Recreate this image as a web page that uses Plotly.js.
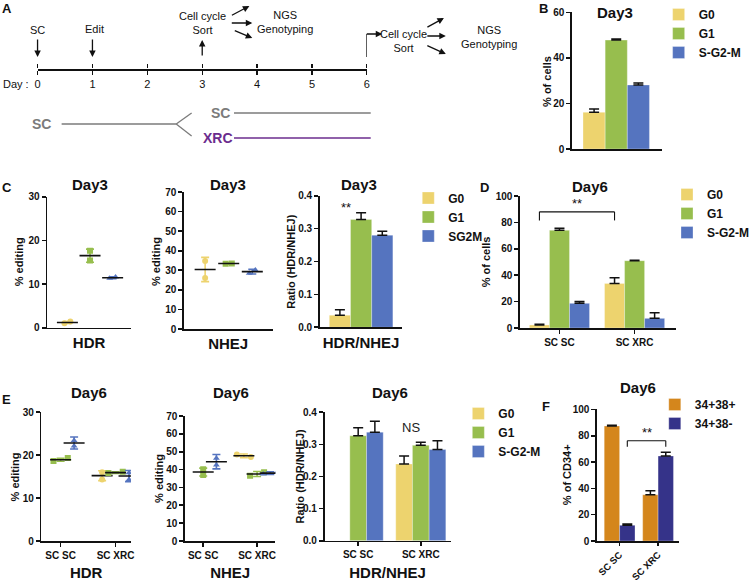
<!DOCTYPE html>
<html><head><meta charset="utf-8">
<script src="https://cdn.plot.ly/plotly-3.0.1.min.js"></script>
<style>html,body{margin:0;padding:0;background:#fff}#chart{width:755px;height:581px}</style>
</head><body><div id="chart"></div>
<script>
// ---------------- DATA ----------------
// Panel A timeline
const timelineDays = [0, 1, 2, 3, 4, 5, 6];
// Cell-cycle groups
const groupsB = ['G0', 'G1', 'S-G2-M'];
const groupsC = ['G0', 'G1', 'SG2M'];
// Panel B: Day3 % of cells
const bPct = [16.1, 47.8, 28.1];
const bErr = [1.5, 0.5, 0.9];
// Panel C: Day3 HDR % editing (replicates, mean, SD)
const cHdrG0 = [1.0, 1.4];
const cHdrG1 = [17.6, 15.4];
const cHdrSG2M = [11.3, 11.6];
const cHdrMean = [1.2, 16.5, 11.45];
const cHdrSD = [0.2, 1.5, 0.2];
// Panel C: Day3 NHEJ % editing
const cNhejG0 = [34.7, 26.1];
const cNhejG1 = [33.4, 33.5];
const cNhejSG2M = [28.5, 30.1];
const cNhejMean = [30.4, 33.45, 29.3];
const cNhejSD = [6.2, 0.4, 1.2];
// Panel C: Day3 ratio HDR/NHEJ
const cRatio = [0.037, 0.328, 0.280];
const cRatioErr = [0.016, 0.020, 0.012];
// Panel D: Day6 % of cells
const conditions = ['SC SC', 'SC XRC'];
const dG0 = [2.3, 33.8];
const dG1 = [74.0, 51.0];
const dSG2M = [18.7, 7.3];
const dG0Err = [0.5, 4.3];
const dG1Err = [1.5, 0.4];
const dSG2MErr = [1.3, 4.3];
// Panel E: Day6 HDR % editing (replicates per condition)
const eHdrG0 = [[], [16.0, 14.3]];
const eHdrG1 = [[18.6, 19.3], [15.8, 16.1]];
const eHdrSG2M = [[23.4, 22.1], [15.9, 14.3]];
const eHdrMeanG0 = [null, 15.2], eHdrMeanG1 = [18.9, 15.9], eHdrMeanSG2M = [22.8, 15.1];
const eHdrSDG0 = [null, 1.15], eHdrSDG1 = [0.35, 0.2], eHdrSDSG2M = [1.4, 1.3];
// Panel E: Day6 NHEJ % editing
const eNhejG0 = [[], [48.4, 47.0]];
const eNhejG1 = [[37.0, 40.2], [36.5, 38.5]];
const eNhejSG2M = [[46.3, 42.5], [37.5, 38.6]];
const eNhejMeanG0 = [null, 47.7], eNhejMeanG1 = [38.6, 37.5], eNhejMeanSG2M = [44.4, 38.0];
const eNhejSDG0 = [null, 1.0], eNhejSDG1 = [2.2, 1.4], eNhejSDSG2M = [4.0, 0.8];
// Panel E: Day6 ratio
const eRatioG0 = [null, 0.239], eRatioG1 = [0.327, 0.297], eRatioSG2M = [0.338, 0.284];
const eRatioG0Err = [null, 0.025], eRatioG1Err = [0.025, 0.010], eRatioSG2MErr = [0.034, 0.027];
// Panel F: Day6 % of CD34+
const fSeries = ['34+38+', '34+38-'];
const fPos = [87.4, 35.2], fPosErr = [0.5, 3.0];
const fNeg = [11.9, 64.6], fNegErr = [1.0, 2.8];

// ---------------- STYLE HELPERS ----------------
const W = 755, H = 581;
const FONT = 'Liberation Sans, Arial, Helvetica, sans-serif';
const xd = (a, b) => [a / W, b / W];
const yd = (t, b) => [1 - b / H, 1 - t / H];
const XP = v => v / W, YP = v => 1 - v / H;
const C = {G0: '#EDD36E', G1: '#97BE4E', SG2M: '#5574BF', pos: '#D4861C', neg: '#353389',
           xrc: '#6B2C8E', gray: '#7B7B7B', ink: '#111111'};
const groupColors = [C.G0, C.G1, C.SG2M];
const groupSymbols = ['circle', 'square', 'triangle-up'];
const e6Offsets = [-0.245, 0, 0.245];

function axis(o) {
  return Object.assign({showline: true, linecolor: C.ink, color: C.ink, linewidth: 1.6, ticks: 'outside', ticklen: 4,
    tickwidth: 1.6, tickcolor: C.ink, showgrid: false, zeroline: false, fixedrange: true,
    tickfont: {family: FONT, size: 10, color: C.ink, weight: 'bold'}}, o);
}
const xtitle = (t, s) => ({text: t, font: {family: FONT, size: 15, color: C.ink, weight: 'bold'}, standoff: s});

function bars(xcats, ys, errs, name, color, xa, ya, legend) {
  return {type: 'bar', x: xcats, y: ys, name: name,
    marker: {color: color, line: {color: 'rgba(255,255,255,0.5)', width: 0.6}},
    error_y: {type: 'data', array: errs, arrayminus: errs.map(() => 0), symmetric: false,
              color: C.ink, thickness: 1.5, width: 5},
    xaxis: xa, yaxis: ya, legend: legend, showlegend: true, hoverinfo: 'skip'};
}

function dots(pointsByCat, means, sds, gi, xOffset, xa, ya, span) {
  const xs = [], ys = [];
  pointsByCat.forEach((pts, ci) => {
    const close = pts.length === 2 && Math.abs(pts[0] - pts[1]) < span * 0.04;
    pts.forEach((v, k) => { xs.push(ci + xOffset + (close ? (k ? 0.13 : -0.13) : 0)); ys.push(v); });
  });
  return [
    {type: 'scatter', mode: 'markers', x: xs, y: ys,
     marker: {color: groupColors[gi], symbol: groupSymbols[gi], size: 6},
     xaxis: xa, yaxis: ya, showlegend: false, hoverinfo: 'skip'},
    {type: 'scatter', mode: 'markers', x: means.map((_, ci) => ci + xOffset), y: means,
     marker: {symbol: 'line-ew-open', size: 15, color: C.ink, line: {color: C.ink, width: 1.6}},
     error_y: {type: 'data', array: sds, color: groupColors[gi], thickness: 1.6, width: 4},
     xaxis: xa, yaxis: ya, showlegend: false, hoverinfo: 'skip'}
  ];
}

// ---------------- TRACES ----------------
const traces = [];
// A: timeline (invisible anchor traces for the day axis and its upper tick marks)
traces.push({type: 'scatter', mode: 'markers', x: timelineDays, y: timelineDays.map(() => 0),
  marker: {opacity: 0}, xaxis: 'x', yaxis: 'y', showlegend: false, hoverinfo: 'skip'});
traces.push({type: 'scatter', mode: 'markers', x: timelineDays, y: timelineDays.map(() => 0),
  marker: {opacity: 0}, xaxis: 'x11', yaxis: 'y', showlegend: false, hoverinfo: 'skip'});
// B
const bCat = ['Day3'];
groupsB.forEach((g, i) => traces.push(bars(bCat, [bPct[i]], [bErr[i]], g, groupColors[i], 'x2', 'y2', 'legend')));
// C HDR / NHEJ dot plots
[cHdrG0, cHdrG1, cHdrSG2M].forEach((pts, i) =>
  traces.push(...dots([pts], [cHdrMean[i]], [cHdrSD[i]], i, i, 'x3', 'y3', 30)));
[cNhejG0, cNhejG1, cNhejSG2M].forEach((pts, i) =>
  traces.push(...dots([pts], [cNhejMean[i]], [cNhejSD[i]], i, i, 'x4', 'y4', 70)));
// C ratio
const cCat = ['HDR/NHEJ'];
groupsC.forEach((g, i) => traces.push(bars(cCat, [cRatio[i]], [cRatioErr[i]], g, groupColors[i], 'x5', 'y5', 'legend2')));
// D
[[dG0, dG0Err], [dG1, dG1Err], [dSG2M, dSG2MErr]].forEach(([v, e], i) =>
  traces.push(bars(conditions, v, e, groupsB[i], groupColors[i], 'x6', 'y6', 'legend3')));
// E HDR / NHEJ
[[eHdrG0, eHdrMeanG0, eHdrSDG0], [eHdrG1, eHdrMeanG1, eHdrSDG1], [eHdrSG2M, eHdrMeanSG2M, eHdrSDSG2M]]
  .forEach(([p, m, s], i) => traces.push(...dots(p, m, s, i, e6Offsets[i], 'x7', 'y7', 30)));
[[eNhejG0, eNhejMeanG0, eNhejSDG0], [eNhejG1, eNhejMeanG1, eNhejSDG1], [eNhejSG2M, eNhejMeanSG2M, eNhejSDSG2M]]
  .forEach(([p, m, s], i) => traces.push(...dots(p, m, s, i, e6Offsets[i], 'x8', 'y8', 70)));
// E ratio
[[eRatioG0, eRatioG0Err], [eRatioG1, eRatioG1Err], [eRatioSG2M, eRatioSG2MErr]].forEach(([v, e], i) =>
  traces.push(bars(conditions, v, e, groupsB[i], groupColors[i], 'x9', 'y9', 'legend4')));
// F
traces.push(bars(conditions, fPos, fPosErr, fSeries[0], C.pos, 'x10', 'y10', 'legend5'));
traces.push(bars(conditions, fNeg, fNegErr, fSeries[1], C.neg, 'x10', 'y10', 'legend5'));

// ---------------- LAYOUT ----------------
const legendBase = (x, top) => ({x: XP(x), y: YP(top), xanchor: 'left', yanchor: 'top',
  bgcolor: 'rgba(0,0,0,0)', font: {family: FONT, size: 12, color: C.ink, weight: 'bold'},
  tracegroupgap: 0, itemclick: false, itemdoubleclick: false});

const ann = [];
const txt = (t, x, y, size, opts) => ann.push(Object.assign({text: t, x: XP(x), y: YP(y), xref: 'paper', yref: 'paper',
  showarrow: false, xanchor: 'center', yanchor: 'middle', font: {family: FONT, size: size, color: C.ink}}, opts || {}));
const bold = (t, x, y, size, color) => txt(t, x, y, size, {font: {family: FONT, size: size, color: color || C.ink, weight: 'bold'}});
// panel letters
[['A', 7, 8], ['B', 564, 8], ['C', 7, 188], ['D', 503, 188], ['E', 7, 399], ['F', 567, 406]]
  .forEach(([t, x, y]) => bold(t, x, y, 13));
// panel titles
[['Day3', 639, 13], ['Day3', 93, 185], ['Day3', 237, 185], ['Day3', 373, 185], ['Day6', 613, 186],
 ['Day6', 92, 392], ['Day6', 240, 392], ['Day6', 405, 392], ['Day6', 663, 387]]
  .forEach(([t, x, y]) => bold(t, x, y, 15));
// y-axis titles
[['% of cells', 568, 81], ['% editing', 20, 262], ['% editing', 162, 261], ['Ratio (HDR/NHEJ)', 302, 262],
 ['% of cells', 505, 262], ['% editing', 16, 477], ['% editing', 165, 478], ['Ratio (HDR/NHEJ)', 312, 476],
 ['% of CD34+', 589, 475]].forEach(([t, x, y]) =>
  txt(t, x, y, 11, {textangle: -90, font: {family: FONT, size: 11, color: C.ink, weight: 'bold'}}));
// Panel A texts
txt('SC', 39, 30, 11); txt('Edit', 98, 29, 11);
txt('Cell cycle<br>Sort', 210, 23, 11); txt('NGS<br>Genotyping', 296, 22, 11);
txt('Day :', 17, 84, 11);
txt('Cell cycle<br>Sort', 419, 41, 11); txt('NGS<br>Genotyping', 508, 37, 11);
bold('SC', 43, 124, 14, C.gray); bold('SC', 229, 113, 14, C.gray); bold('XRC', 226, 138, 14, C.xrc);
// arrows on timeline days
const arrowBase = {text: '', showarrow: true, arrowhead: 2, arrowsize: 1, arrowwidth: 1.3, arrowcolor: C.ink};
ann.push(Object.assign({}, arrowBase, {x: 0, xref: 'x', y: YP(57), yref: 'paper', ax: 0, ay: -19}));
ann.push(Object.assign({}, arrowBase, {x: 1, xref: 'x', y: YP(57), yref: 'paper', ax: 0, ay: -19}));
ann.push(Object.assign({}, arrowBase, {x: 3, xref: 'x', y: YP(40), yref: 'paper', ax: 0, ay: 17}));
const pArrow = (hx, hy, ax, ay) => ann.push(Object.assign({}, arrowBase, {x: XP(hx), y: YP(hy), xref: 'paper', yref: 'paper', ax: ax, ay: ay}));
pArrow(259, 6, -19, 10); pArrow(262, 23, -22, 0); pArrow(262, 38, -19, -8);
pArrow(397, 34, -17, 0);
pArrow(461, 18, -18, 10); pArrow(463, 36, -20, 0); pArrow(463, 54, -20, -9);
// significance marks
ann.push({text: '**', x: -0.194, y: 0.365, xref: 'x5', yref: 'y5', showarrow: false, font: {family: FONT, size: 13, color: C.ink}});
ann.push({text: '**', x: 0.233, y: 94.5, xref: 'x6', yref: 'y6', showarrow: false, font: {family: FONT, size: 13, color: C.ink}});
ann.push({text: 'NS', x: 0.846, y: 0.354, xref: 'x9', yref: 'y9', showarrow: false, font: {family: FONT, size: 13, color: '#222'}});
ann.push({text: '**', x: 0.7, y: 82.5, xref: 'x10', yref: 'y10', showarrow: false, font: {family: FONT, size: 13, color: C.ink}});

const shapes = [];
const pline = (x0, y0, x1, y1, color, w) => shapes.push({type: 'line', xref: 'paper', yref: 'paper',
  x0: XP(x0), y0: YP(y0), x1: XP(x1), y1: YP(y1), line: {color: color, width: w}});
// day 6 sort marker
shapes.push({type: 'line', xref: 'x', yref: 'paper', x0: 6, x1: 6, y0: YP(57), y1: YP(34), line: {color: C.ink, width: 1.3}});
// branch lines
pline(64, 124, 183, 124, C.gray, 1.3);
pline(183, 124, 199, 113, C.gray, 1.3);
pline(183, 124, 199, 136, C.gray, 1.3);
pline(243, 113, 385, 113, C.gray, 1.3);
pline(243, 138, 385, 138, C.xrc, 1.3);
// brackets
const bracket = (xa, ya, x0, x1, yTop, yBot) => {
  [[x0, yBot, x0, yTop], [x0, yTop, x1, yTop], [x1, yTop, x1, yBot]].forEach(([a, b, c, d]) =>
    shapes.push({type: 'line', xref: xa, yref: ya, x0: a, y0: b, x1: c, y1: d, line: {color: C.ink, width: 1.1}}));
};
bracket('x6', 'y6', -0.267, 0.733, 88, 81.5);
bracket('x10', 'y10', 0.2, 1.2, 76.2, 71.7);

const noX = {showticklabels: false, ticks: ''};
const layout = {
  width: W, height: H, margin: {l: 0, r: 0, t: 0, b: 0}, paper_bgcolor: '#fff', plot_bgcolor: 'rgba(0,0,0,0)',
  font: {family: FONT, color: C.ink},
  barmode: 'group', bargap: 0.2, bargroupgap: 0,
  showlegend: true,
  // A timeline
  xaxis: axis({domain: xd(39, 381), anchor: 'y', range: [0, 6], tickvals: timelineDays,
    linewidth: 1.4, tickwidth: 1.2, ticklen: 4, tickfont: {family: FONT, size: 11, color: '#111'}}),
  xaxis11: axis({overlaying: 'x', anchor: 'y', side: 'top', range: [0, 6], tickvals: timelineDays,
    showline: false, showticklabels: false, tickwidth: 1.2, ticklen: 4}),
  yaxis: {domain: yd(68.6, 69.4), anchor: 'x', visible: false, range: [-1, 1], fixedrange: true},
  // B
  xaxis2: axis(Object.assign({domain: xd(594, 688), anchor: 'y2', type: 'category', range: [-0.533, 0.557]}, noX)),
  yaxis2: axis({domain: yd(12.3, 149), anchor: 'x2', range: [0, 60], dtick: 20}),
  // C HDR
  xaxis3: axis(Object.assign({domain: xd(49, 136), anchor: 'y3', range: [-0.894, 2.81], title: xtitle('HDR', 9)}, noX)),
  yaxis3: axis({domain: yd(196.7, 327.7), anchor: 'x3', range: [0, 30], dtick: 10}),
  // C NHEJ
  xaxis4: axis(Object.assign({domain: xd(191, 283), anchor: 'y4', range: [-0.9, 2.857], title: xtitle('NHEJ', 9)}, noX)),
  yaxis4: axis({domain: yd(192, 329), anchor: 'x4', range: [0, 70], dtick: 10}),
  // C ratio
  xaxis5: axis(Object.assign({domain: xd(332, 418), anchor: 'y5', type: 'category', range: [-0.521, 0.521], title: xtitle('HDR/NHEJ', 9)}, noX)),
  yaxis5: axis({domain: yd(195.7, 327.3), anchor: 'x5', range: [0, 0.4], dtick: 0.1, tickformat: '.1f'}),
  // D
  xaxis6: axis({domain: xd(540, 702), anchor: 'y6', type: 'category', range: [-0.526, 1.551]}),
  yaxis6: axis({domain: yd(196, 328), anchor: 'x6', range: [0, 100], dtick: 20}),
  // E HDR
  xaxis7: axis({domain: xd(43, 136), anchor: 'y7', range: [-0.35, 1.28], tickvals: [0, 1], ticktext: conditions, title: xtitle('HDR', 10)}),
  yaxis7: axis({domain: yd(412, 541), anchor: 'x7', range: [0, 30], dtick: 10}),
  // E NHEJ
  xaxis8: axis({domain: xd(192, 286), anchor: 'y8', range: [-0.34, 1.34], tickvals: [0, 1], ticktext: conditions, title: xtitle('NHEJ', 10)}),
  yaxis8: axis({domain: yd(416, 541), anchor: 'x8', range: [0, 70], dtick: 10}),
  // E ratio
  xaxis9: axis({domain: xd(337, 468), anchor: 'y9', type: 'category', range: [-0.538, 1.477], title: xtitle('HDR/NHEJ', 10)}),
  yaxis9: axis({domain: yd(412.3, 540.7), anchor: 'x9', range: [0, 0.4], dtick: 0.1, tickformat: '.1f'}),
  // F
  xaxis10: axis({domain: xd(620, 705), anchor: 'y10', type: 'category', range: [-0.5875, 1.54], tickangle: -45,
    ticklen: 3, tickfont: {family: FONT, size: 9.5, color: C.ink, weight: 'bold'}}),
  yaxis10: axis({domain: yd(409.4, 541), anchor: 'x10', range: [0, 100], dtick: 20}),
  legend: legendBase(684, 0),
  legend2: legendBase(424, 183.5),
  legend3: legendBase(693, 180),
  legend4: legendBase(476, 399),
  legend5: legendBase(680, 390),
  annotations: ann,
  shapes: shapes
};

Plotly.newPlot('chart', traces, layout, {staticPlot: true, displayModeBar: false});
</script></body></html>
